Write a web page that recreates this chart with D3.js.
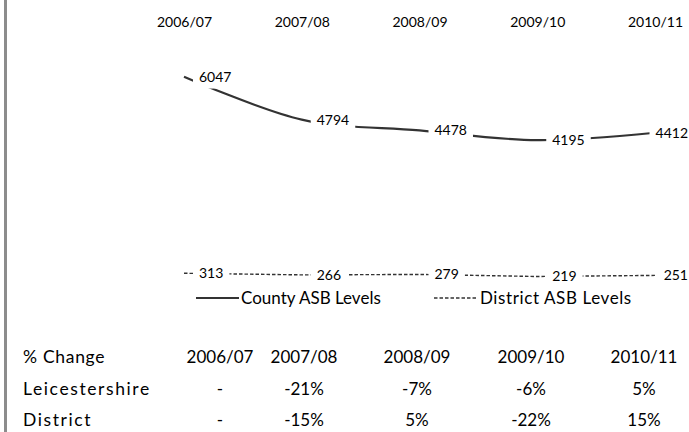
<!DOCTYPE html>
<html>
<head>
<meta charset="utf-8">
<script src="https://cdn.jsdelivr.net/npm/d3@7"></script>
<style>
  html, body { margin: 0; padding: 0; background: #fff; }
  svg { display: block; font-family: Lato, "Open Sans", sans-serif; }
</style>
</head>
<body>
<svg id="chart" width="689" height="432"></svg>
<script>
// Anti-social behaviour levels, county vs district
const years = ["2006/07", "2007/08", "2008/09", "2009/10", "2010/11"];
const countyLevels = [6047, 4794, 4478, 4195, 4412];
const districtLevels = [313, 266, 279, 219, 251];

// % change table
const tableHeader = "% Change";
const rowNames = ["Leicestershire", "District"];
const leicsChange = ["-", "-21%", "-7%", "-6%", "5%"];
const districtChange = ["-", "-15%", "5%", "-22%", "15%"];

const svg = d3.select("#chart");
const W = 689, H = 432;

// left border strip
svg.append("rect").attr("x", 4).attr("y", 0).attr("width", 3).attr("height", H).attr("fill", "#8c8c8c");

const x = d3.scalePoint().domain(years).range([184, 655]);
const y = d3.scaleLinear().domain([0, 7000]).range([284, 44]);

// category axis along the top
const xAxis = d3.axisTop(x).tickSize(0).tickPadding(0);
const gx = svg.append("g").attr("transform", "translate(0,27)").call(xAxis);
gx.select(".domain").remove();
gx.selectAll("text").attr("font-size", 14).attr("fill", "#000").attr("font-family", "Lato, sans-serif");

const county = years.map((yr, i) => ({ yr, v: countyLevels[i] }));
const district = years.map((yr, i) => ({ yr, v: districtLevels[i] }));

const smooth = d3.line().x(d => x(d.yr)).y(d => y(d.v)).curve(d3.curveCatmullRom.alpha(0));
const straight = d3.line().x(d => x(d.yr)).y(d => y(d.v));

const dash = "3.5,2";

svg.append("path").datum(county).attr("d", smooth)
  .attr("fill", "none").attr("stroke", "#333").attr("stroke-width", 2.2);

svg.append("path").datum(district).attr("d", straight)
  .attr("fill", "none").attr("stroke", "#333").attr("stroke-width", 1.4)
  .attr("stroke-dasharray", dash);

// value labels to the right of each point, on a white box, kept inside the page
function labels(data, cls) {
  const g = svg.append("g").attr("class", cls);
  const lab = g.selectAll("g").data(data).join("g");
  lab.append("text").text(d => d.v)
    .attr("font-size", 14).attr("dy", "0.35em").attr("fill", "#000");
  lab.each(function (d) {
    const node = d3.select(this);
    const b = node.select("text").node().getBBox();
    const lx = Math.min(x(d.yr) + 15, W - b.width - 1);
    node.attr("transform", `translate(${lx},${y(d.v)})`);
    node.insert("rect", "text")
      .attr("x", b.x - 6).attr("y", b.y - 4)
      .attr("width", b.width + 12).attr("height", b.height + 8)
      .attr("fill", "#fff");
  });
}
labels(county, "county-labels");
labels(district, "district-labels");

// legend
const leg = svg.append("g").attr("transform", "translate(0,298)");
leg.append("line").attr("x1", 196).attr("x2", 239).attr("y1", 0).attr("y2", 0)
  .attr("stroke", "#333").attr("stroke-width", 2.2);
leg.append("text").attr("x", 241).attr("dy", "0.35em").attr("font-size", 17).text("County ASB Levels");
leg.append("line").attr("x1", 434).attr("x2", 478).attr("y1", 0).attr("y2", 0)
  .attr("stroke", "#333").attr("stroke-width", 1.4).attr("stroke-dasharray", dash);
leg.append("text").attr("x", 480).attr("dy", "0.35em").attr("font-size", 17).attr("letter-spacing", 0.6)
  .text("District ASB Levels");

// % change table
const colX = d3.scaleOrdinal().domain(years).range([220, 304, 417, 531, 644]);
const rows = [
  { name: tableHeader, cells: years, y: 357, ls: 0.7 },
  { name: rowNames[0], cells: leicsChange, y: 389, ls: 1.6 },
  { name: rowNames[1], cells: districtChange, y: 420, ls: 1.6 }
];
const tr = svg.append("g").selectAll("g").data(rows).join("g")
  .attr("transform", d => `translate(0,${d.y})`);
tr.append("text").attr("x", 23).attr("dy", "0.35em").attr("font-size", 17.5)
  .attr("letter-spacing", d => d.ls).text(d => d.name);
tr.selectAll("text.cell").data(d => d.cells.map((c, i) => ({ c, yr: years[i] })))
  .join("text").attr("class", "cell")
  .attr("x", d => colX(d.yr)).attr("dy", "0.35em").attr("text-anchor", "middle")
  .attr("font-size", 17).text(d => d.c);
</script>
</body>
</html>
